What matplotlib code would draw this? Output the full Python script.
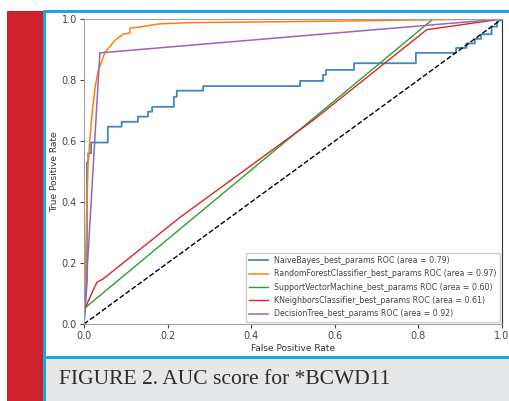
#! /usr/bin/env python3

import matplotlib
matplotlib.use('Agg')
import matplotlib.pyplot as plt
from matplotlib.patches import Rectangle

W, H = 509, 401

# ROC points
nb_fpr = [0, 0.007, 0.007, 0.01, 0.01, 0.017, 0.017, 0.057, 0.057, 0.09, 0.09, 0.129, 0.129,
          0.153, 0.153, 0.163, 0.163, 0.215, 0.215, 0.222, 0.222, 0.285, 0.285, 0.517, 0.517,
          0.572, 0.572, 0.579, 0.579, 0.646, 0.646, 0.794, 0.794, 0.89, 0.89, 0.915, 0.915,
          0.935, 0.935, 0.95, 0.95, 0.975, 0.975, 0.988, 0.988, 1.0]
nb_tpr = [0, 0.14, 0.53, 0.53, 0.56, 0.56, 0.595, 0.595, 0.647, 0.647, 0.663, 0.663, 0.68,
          0.68, 0.696, 0.696, 0.712, 0.712, 0.745, 0.745, 0.765, 0.765, 0.78, 0.78, 0.797,
          0.797, 0.817, 0.817, 0.833, 0.833, 0.855, 0.855, 0.889, 0.889, 0.905, 0.905, 0.92,
          0.92, 0.935, 0.935, 0.95, 0.95, 0.975, 0.975, 0.99, 1.0]

rf_fpr = [0, 0, 0.003, 0.006, 0.01, 0.015, 0.02, 0.027, 0.034, 0.05, 0.074, 0.093, 0.11, 0.11,
          0.134, 0.18, 0.25, 0.4, 0.6, 0.8, 1.0]
rf_tpr = [0, 0.05, 0.15, 0.35, 0.53, 0.62, 0.70, 0.78, 0.83, 0.89, 0.93, 0.95, 0.954, 0.97,
          0.974, 0.984, 0.988, 0.99, 0.993, 0.997, 1.0]

svm_fpr = [0, 0, 0.835, 1.0]
svm_tpr = [0, 0.05, 1.0, 1.0]

knn_fpr = [0, 0, 0.01, 0.02, 0.031, 0.045, 0.23, 0.55, 0.82, 1.0]
knn_tpr = [0, 0.04, 0.075, 0.105, 0.137, 0.147, 0.35, 0.67, 0.965, 1.0]

dt_fpr = [0, 0.038, 1.0]
dt_tpr = [0, 0.889, 1.0]

labels = ['NaiveBayes_best_params ROC (area = 0.79)',
          'RandomForestClassifier_best_params ROC (area = 0.97)',
          'SupportVectorMachine_best_params ROC (area = 0.60)',
          'KNeighborsClassifier_best_params ROC (area = 0.61)',
          'DecisionTree_best_params ROC (area = 0.92)']

caption = 'FIGURE 2. AUC score for *BCWD11'

fig = plt.figure(figsize=(W / 100, H / 100), dpi=100)
fig.patch.set_facecolor('white')

def rect(x0, y0, x1, y1, color):
    # pixel box -> figure coords
    fig.patches.append(Rectangle((x0 / W, 1 - y1 / H), (x1 - x0) / W, (y1 - y0) / H,
                                 transform=fig.transFigure, facecolor=color,
                                 edgecolor='none', zorder=0))

rect(7, 11, 43, 401, '#cf202e')
rect(46, 359, 509, 401, '#e6e7e8')
rect(43, 11, 46, 401, '#16a8e0')
rect(43, 10, 509, 13, '#16a8e0')
rect(46, 356, 509, 359, '#16a8e0')

fig.text(59 / W, 1 - 379 / H, caption, fontsize=15.5, family='Liberation Serif',
         color='#2b2b2b', va='center', ha='left')

ax = fig.add_axes([84 / W, 1 - 324 / H, 418 / W, 305 / H])

ax.plot(nb_fpr, nb_tpr, color='#3f88c5', lw=1.3, label=labels[0])
ax.plot(rf_fpr, rf_tpr, color='#ff7f0e', lw=1.1, label=labels[1])
ax.plot(svm_fpr, svm_tpr, color='#2ca02c', lw=1.0, label=labels[2])
ax.plot(knn_fpr, knn_tpr, color='#d62728', lw=1.0, label=labels[3])
ax.plot(dt_fpr, dt_tpr, color='#9467bd', lw=1.1, label=labels[4])
ax.plot([0, 1], [0, 1], 'k--', lw=1.0)

ax.set_xlim(0, 1)
ax.set_ylim(0, 1)
ax.set_xticks([0, 0.2, 0.4, 0.6, 0.8, 1.0])
ax.set_yticks([0, 0.2, 0.4, 0.6, 0.8, 1.0])
ax.tick_params(labelsize=7, length=3, width=0.8, pad=2, colors='#444444')
ax.set_xlabel('False Positive Rate', fontsize=6.5, color='#333333', labelpad=2)
ax.set_ylabel('True Positive Rate', fontsize=6.5, color='#333333', labelpad=2)

for s in ['left', 'top', 'bottom']:
    ax.spines[s].set_color('#a0a0a0')
ax.spines['right'].set_color('#333333')

leg = ax.legend(loc='lower right', fontsize=5.7, handlelength=2.4, labelspacing=0.55,
                borderaxespad=0.3, framealpha=1)
leg.get_frame().set_edgecolor('#cccccc')
for t in leg.get_texts():
    t.set_color('#444444')

fig.savefig('out.png', dpi=100)
